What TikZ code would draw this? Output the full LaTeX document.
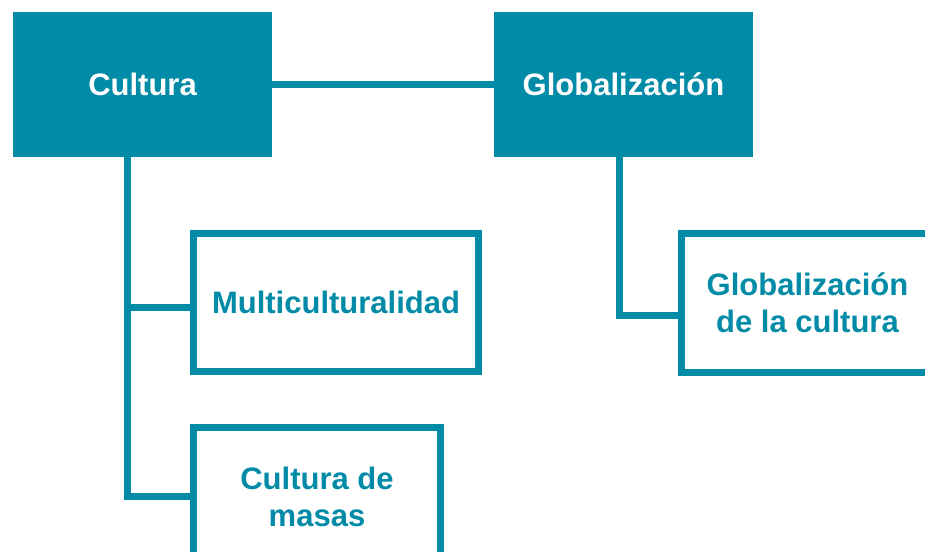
\documentclass[tikz,border=0pt]{standalone}
\usepackage{fontspec}
\setmainfont{Liberation Sans}
\definecolor{teal1}{HTML}{028BA7}
\begin{document}
\begin{tikzpicture}[x=0.75pt,y=-0.75pt,
  lbl/.style={font=\bfseries\fontsize{23.25}{27.75}\selectfont, align=center},
  filledbox/.style={lbl, fill=teal1, text=white, draw=none, inner sep=0pt, minimum width=194.25pt, minimum height=108.75pt},
  outlinebox/.style={lbl, draw=teal1, line width=5.25pt, fill=white, text=teal1, inner sep=0pt},
  conn/.style={draw=teal1, line width=5.25pt, line join=miter}]
\useasboundingbox (0,0) rectangle (925,552);
\clip (0,0) rectangle (925,552);
% coordinates for trunk lines
\coordinate (t1) at (127,157);
\coordinate (m1) at (127,308);
\coordinate (t2) at (619.5,157);
\coordinate (g1) at (619.5,315.5);
% boxes
\node[filledbox] (cult) at (142.5,84.5) {Cultura};
\node[filledbox] (glob) at (623.5,84.5) {Globalización};
\node[outlinebox, minimum width=213.75pt, minimum height=103.5pt] (multi) at (336,302.5) {Multiculturalidad};
\node[outlinebox, minimum width=185.25pt, minimum height=103.5pt] (masas) at (317,496.5) {Cultura de\\masas};
\node[outlinebox, minimum width=189pt, minimum height=104.25pt] (gcult) at (807.5,303) {Globalización\\de la cultura};
% connectors
\draw[conn] (cult.east) -- (glob.west);
\draw[conn] (t1) |- (masas.west);
\draw[conn] (m1) -- (m1 -| multi.west);
\draw[conn] (t2) |- (gcult.west |- g1);
\end{tikzpicture}
\end{document}
